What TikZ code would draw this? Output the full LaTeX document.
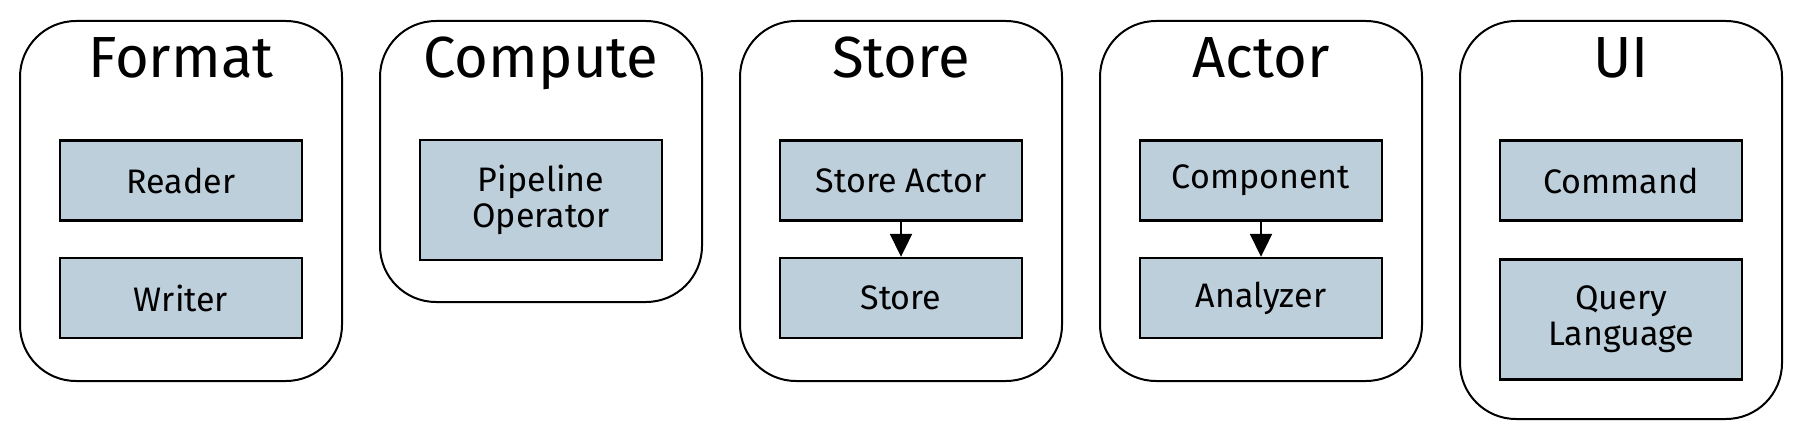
\documentclass[tikz,border=0pt]{standalone}
\usepackage{fontspec}
\setmainfont{Fira Sans}
\usetikzlibrary{arrows.meta}
\definecolor{partblue}{RGB}{190,207,220}

\begin{document}
\begin{tikzpicture}[thick,node distance=58.75pt,>={Triangle[width=11pt,length=11.5pt]},
	group/.style={draw,line width=1pt,rounded corners=28pt,minimum width=161pt,anchor=north,inner sep=0pt},
	part/.style={draw,line width=1.2pt,fill=partblue,minimum width=121pt,minimum height=40pt,align=center,font=\fontsize{17}{18}\selectfont},
	head/.style={anchor=base,font=\fontsize{29}{30}\selectfont}]
				\useasboundingbox (0,0) rectangle (901pt,220pt);

				\node[group,minimum height=180pt] (format) at (90.5pt,210pt) {};
				\node[group,minimum height=140.5pt] (compute) at (270.5pt,210pt) {};
				\node[group,minimum height=180pt] (store) at (450.5pt,210pt) {};
				\node[group,minimum height=180pt] (actor) at (630.5pt,210pt) {};
				\node[group,minimum height=199pt] (ui) at (810.5pt,210pt) {};

				\node[head] (formatT) at (90.5pt,181.5pt) {Format};
				\node[head] (computeT) at (270.5pt,181.5pt) {Compute};
				\node[head] (storeT) at (450.5pt,181.5pt) {Store};
				\node[head] (actorT) at (630.5pt,181.5pt) {Actor};
				\node[head] (uiT) at (810.5pt,181.5pt) {UI};

				\node[part] (reader) at (90.5pt,129.75pt) {Reader};
				\node[part] (writer) [below of = reader] {Writer};
				\node[part,minimum height=60pt] (pipeline) at (270.5pt,120pt) {Pipeline\\Operator};
				\node[part] (storeactor) at (450.5pt,129.75pt) {Store Actor};
				\node[part] (storage) [below of = storeactor] {Store};
				\node[part] (component) at (630.5pt,129.75pt) {Component};
				\node[part] (analyzer) [below of = component] {Analyzer};
				\node[part] (command) at (810.5pt,129.75pt) {Command};
				\node[part,minimum height=60pt] (query) [below of = command,node distance=69.5pt] {Query\\Language};

				\draw[->,line width=1pt] (storeactor) -- (storage);
				\draw[->,line width=1pt] (component) -- (analyzer);

\end{tikzpicture}
\end{document}
